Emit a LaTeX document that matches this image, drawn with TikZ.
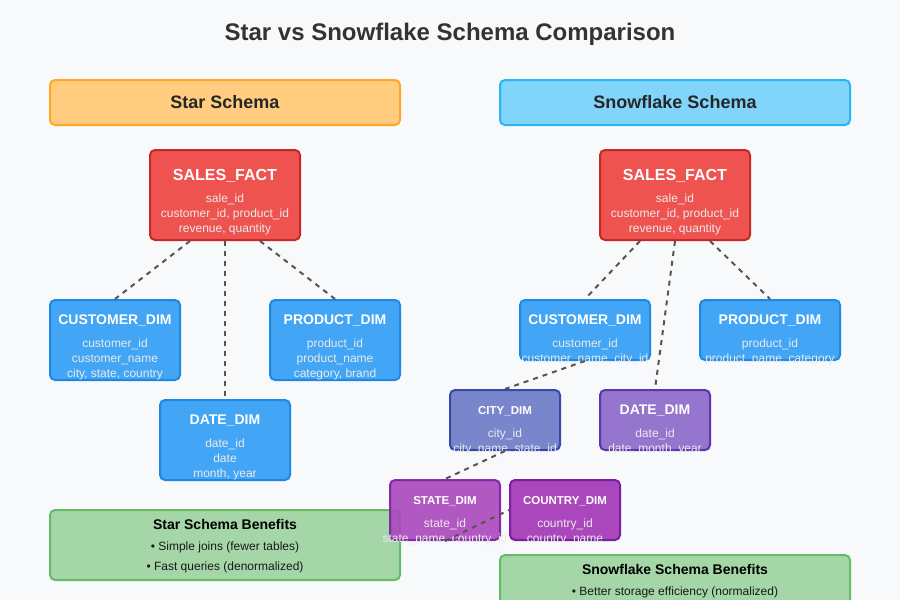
\documentclass[tikz,border=0pt]{standalone}
\usepackage{fontspec}
\setmainfont{Liberation Sans}
\usetikzlibrary{positioning}
\definecolor{colorbg}      {HTML}{F8F9FA}
\definecolor{colortitle}   {HTML}{333333}
\definecolor{colorlink}    {HTML}{555555}
\definecolor{colorstar}    {HTML}{FFCC80}
\definecolor{colorstarline}{HTML}{FFA726}
\definecolor{colorsnow}    {HTML}{81D4FA}
\definecolor{colorsnowline}{HTML}{29B6F6}
\definecolor{colorfact}    {HTML}{EF5350}
\definecolor{colorfactline}{HTML}{C62828}
\definecolor{colordim}     {HTML}{42A5F5}
\definecolor{colordimline} {HTML}{1E88E5}
\definecolor{colorcity}    {HTML}{7986CB}
\definecolor{colorcityline}{HTML}{3949AB}
\definecolor{colordate}    {HTML}{9575CD}
\definecolor{colordateline}{HTML}{5E35B1}
\definecolor{colorgeo}     {HTML}{AB47BC}
\definecolor{colorgeoline} {HTML}{7B1FA2}
\definecolor{colorgood}    {HTML}{A5D6A7}
\definecolor{colorgoodline}{HTML}{66BB6A}

\begin{document}
\begin{tikzpicture}[
    x=1pt, y=-1pt,
    box/.style={rectangle,rounded corners=5pt,line width=2pt,inner sep=0pt},
    header/.style={box,minimum width=350pt,minimum height=45pt},
    fact/.style={box,fill=colorfact,draw=colorfactline,minimum width=150pt,minimum height=90pt},
    dim/.style={box,fill=colordim,draw=colordimline,minimum width=130pt,minimum height=80pt},
    smalldim/.style={box,minimum width=110pt,minimum height=60pt},
    benefits/.style={box,fill=colorgood,draw=colorgoodline,minimum width=350pt},
    headtext/.style={anchor=base,text=black!85,font=\bfseries\fontsize{18}{22}\selectfont},
    facttext/.style={anchor=base,text=white,font=\bfseries\fontsize{16}{19}\selectfont},
    dimtext/.style={anchor=base,text=white,font=\bfseries\fontsize{14}{17}\selectfont},
    smalltext/.style={anchor=base,text=white,font=\bfseries\fontsize{11.5}{14}\selectfont},
    fields/.style={anchor=north,inner sep=0pt,align=center,text=white!92!black,font=\fontsize{12}{15}\selectfont,execute at begin node=\strut},
    goodtitle/.style={anchor=base,text=black,font=\bfseries\fontsize{14}{17}\selectfont},
    goodtext/.style={anchor=north,inner sep=0pt,align=center,text=black!90,font=\fontsize{12}{20}\selectfont,execute at begin node=\strut},
    link/.style={draw=colorlink,line width=2pt,dash pattern=on 5pt off 5pt},
]

    % Canvas and title
    \fill[colorbg] (0,0) rectangle (900,600);
    \useasboundingbox (0,0) rectangle (900,600);
    \node[anchor=base,text=colortitle,font=\bfseries\fontsize{24}{28}\selectfont] (title) at (450,40) {Star vs Snowflake Schema Comparison};

    % Headers
    \node[header,fill=colorstar,draw=colorstarline] (hdL) at (225,102.5) {};
    \node[headtext] (hdLt) at ([yshift=-29]hdL.north) {Star Schema};
    \node[header,fill=colorsnow,draw=colorsnowline] (hdR) at (675,102.5) {};
    \node[headtext] (hdRt) at ([yshift=-29]hdR.north) {Snowflake Schema};

    % Star schema tables
    \node[fact] (sfL) at (225,195) {};
    \node[facttext] (sfLt) at ([yshift=-31]sfL.north) {SALES\_FACT};
    \node[fields] (sfLf) at ([yshift=-45]sfL.north) {sale\_id\\customer\_id, product\_id\\revenue, quantity};

    \node[dim] (cdL) at (115,340) {};
    \node[dimtext] (cdLt) at ([yshift=-25]cdL.north) {CUSTOMER\_DIM};
    \node[fields] (cdLf) at ([yshift=-40]cdL.north) {customer\_id\\customer\_name\\city, state, country};

    \node[dim] (pdL) at (335,340) {};
    \node[dimtext] (pdLt) at ([yshift=-25]pdL.north) {PRODUCT\_DIM};
    \node[fields] (pdLf) at ([yshift=-40]pdL.north) {product\_id\\product\_name\\category, brand};

    \node[dim] (ddL) at (225,440) {};
    \node[dimtext] (ddLt) at ([yshift=-25]ddL.north) {DATE\_DIM};
    \node[fields] (ddLf) at ([yshift=-40]ddL.north) {date\_id\\date\\month, year};

    % Star benefits
    \node[benefits,minimum height=70pt] (bnL) at (225,545) {};
    \node[goodtitle] (bnLt) at ([yshift=-20]bnL.north) {Star Schema Benefits};
    \node[goodtext] (bnLf) at ([yshift=-33]bnL.north) {• Simple joins (fewer tables)\\• Fast queries (denormalized)};

    % Snowflake schema tables
    \node[fact] (sfR) at (675,195) {};
    \node[facttext] (sfRt) at ([yshift=-31]sfR.north) {SALES\_FACT};
    \node[fields] (sfRf) at ([yshift=-45]sfR.north) {sale\_id\\customer\_id, product\_id\\revenue, quantity};

    \node[dim,minimum height=60pt] (cdR) at (585,330) {};
    \node[dimtext] (cdRt) at ([yshift=-25]cdR.north) {CUSTOMER\_DIM};
    \node[fields] (cdRf) at ([yshift=-40]cdR.north) {customer\_id\\customer\_name, city\_id};

    \node[dim,minimum width=140pt,minimum height=60pt] (pdR) at (770,330) {};
    \node[dimtext] (pdRt) at ([yshift=-25]pdR.north) {PRODUCT\_DIM};
    \node[fields] (pdRf) at ([yshift=-40]pdR.north) {product\_id\\product\_name, category};

    \node[smalldim,fill=colorcity,draw=colorcityline] (ctR) at (505,420) {};
    \node[smalltext] (ctRt) at ([yshift=-25]ctR.north) {CITY\_DIM};
    \node[fields] (ctRf) at ([yshift=-40]ctR.north) {city\_id\\city\_name, state\_id};

    \node[smalldim,fill=colordate,draw=colordateline] (dtR) at (655,420) {};
    \node[dimtext] (dtRt) at ([yshift=-25]dtR.north) {DATE\_DIM};
    \node[fields] (dtRf) at ([yshift=-40]dtR.north) {date\_id\\date, month, year};

    \node[smalldim,fill=colorgeo,draw=colorgeoline,opacity=0.9] (stR) at (445,510) {};
    \node[smalltext] (stRt) at ([yshift=-25]stR.north) {STATE\_DIM};
    \node[fields] (stRf) at ([yshift=-40]stR.north) {state\_id\\state\_name, country\_id};

    \node[smalldim,fill=colorgeo,draw=colorgeoline] (coR) at (565,510) {};
    \node[smalltext] (coRt) at ([yshift=-25]coR.north) {COUNTRY\_DIM};
    \node[fields] (coRf) at ([yshift=-40]coR.north) {country\_id\\country\_name};

    % Snowflake benefits
    \node[benefits,minimum height=60pt] (bnR) at (675,585) {};
    \node[goodtitle] (bnRt) at ([yshift=-20]bnR.north) {Snowflake Schema Benefits};
    \node[goodtext] (bnRf) at ([yshift=-27]bnR.north) {• Better storage efficiency (normalized)};

    % Star links
    \draw[link] ([xshift=-35]sfL.south) -- (cdL.north);
    \draw[link] (sfL.south) -- (ddL.north);
    \draw[link] ([xshift=35]sfL.south) -- (pdL.north);

    % Snowflake links
    \draw[link] ([xshift=-35]sfR.south) -- (cdR.north);
    \draw[link] (sfR.south) -- (dtR.north);
    \draw[link] ([xshift=35]sfR.south) -- (pdR.north);
    \draw[link] (cdR.south) -- (ctR.north);
    \draw[link] (ctR.south) -- (stR.north);
    \draw[link] (stR.south) -- (coR.west);

\end{tikzpicture}
\end{document}
